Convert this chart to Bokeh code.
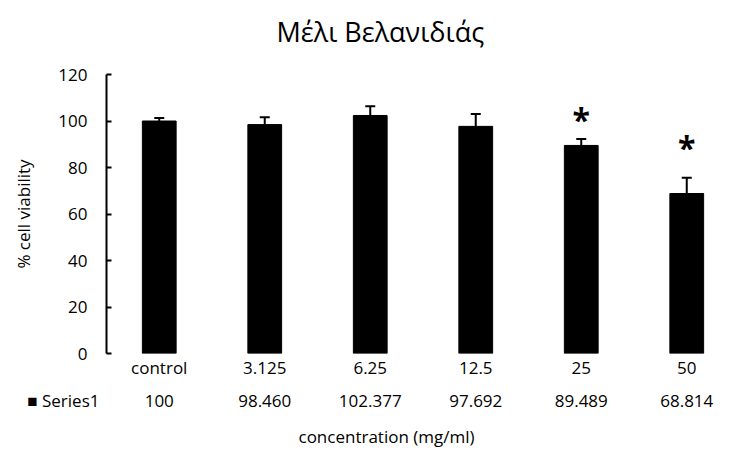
from bokeh.plotting import figure
from bokeh.models import (Range1d, FixedTicker, LinearAxis, Whisker, TeeHead,
                          ColumnDataSource, Title)
from bokeh.core.properties import value
from bokeh.embed import file_html
from bokeh.resources import INLINE

# ---- data ----
categories = ["control", "3.125", "6.25", "12.5", "25", "50"]
viability = [100, 98.460, 102.377, 97.692, 89.489, 68.814]
table_labels = ["100", "98.460", "102.377", "97.692", "89.489", "68.814"]
errors = [1.3, 3.2, 4.0, 5.3, 2.8, 6.8]
significant = [False, False, False, False, True, True]
star_y = [None, None, None, None, 100.7, 88.8]
y_ticks = [0, 20, 40, 60, 80, 100, 120]
series_name = "Series1"
title_text = "Μέλι Βελανιδιάς"
x_title = "concentration (mg/ml)"
y_title = "% cell viability"

FONT = "Open Sans"
FS = "17px"
NBSP = "\u00a0"
xs = list(range(len(categories)))

p = figure(output_backend="svg", toolbar_location=None,
           width=737, height=457,
           min_border_left=106, min_border_right=0,
           min_border_top=74, min_border_bottom=104,
           x_range=Range1d(-0.5, 5.481), y_range=Range1d(0, 120),
           x_axis_location=None)
p.outline_line_color = None
p.grid.grid_line_color = None
p.background_fill_color = "white"
p.border_fill_color = "white"

# spacer next to the frame, then the chart title above it
p.add_layout(Title(text=" ", text_font_size="1px", standoff=9), "above")
p.add_layout(Title(text=title_text, align="left", offset=170, standoff=23,
                   vertical_align="middle",
                   text_font=FONT, text_font_size="27px",
                   text_font_style="normal", text_color="black"), "above")

src = ColumnDataSource(dict(x=xs, top=viability,
                            upper=[v + e for v, e in zip(viability, errors)]))
p.vbar(x="x", top="top", width=0.32, source=src, fill_color="black",
       line_color="black")

w = Whisker(base="x", lower="top", upper="upper", source=src,
            line_color="black", line_width=2,
            upper_head=TeeHead(size=10, line_color="black", line_width=2),
            lower_head=None)
p.add_layout(w)

sx = [x for x, s in zip(xs, significant) if s]
sy = [y for y, s in zip(star_y, significant) if s]
p.text(x=sx, y=sy, text=["*"] * len(sx), text_align="center",
       text_baseline="middle", text_font=value(FONT),
       text_font_size="32px", text_font_style="bold", text_color="black")

# y axis
ya = p.yaxis[0]
ya.ticker = FixedTicker(ticks=y_ticks)
ya.axis_line_color = "black"
ya.axis_line_width = 2
ya.major_tick_line_color = "black"
ya.major_tick_line_width = 2
ya.major_tick_in = 5
ya.major_tick_out = 0
ya.minor_tick_line_color = None
ya.major_label_standoff = 19
ya.major_label_text_font = FONT
ya.major_label_text_font_size = FS
ya.major_label_text_color = "black"
ya.axis_label = y_title
ya.axis_label_text_font = FONT
ya.axis_label_text_font_size = FS
ya.axis_label_text_font_style = "normal"
ya.axis_label_text_color = "black"
ya.axis_label_standoff = 20

# x axis: categories row
xa1 = LinearAxis(ticker=FixedTicker(ticks=xs),
                 major_label_overrides={i: c for i, c in enumerate(categories)})
# x axis: data table row, with the series key at the left edge of the table
key_pos = -0.49
table_overrides = {i: t for i, t in enumerate(table_labels)}
table_overrides[key_pos] = "■ " + series_name + NBSP * 20
xa2 = LinearAxis(ticker=FixedTicker(ticks=[key_pos] + xs),
                 major_label_overrides=table_overrides)
for a, so in ((xa1, 2), (xa2, 7)):
    a.axis_line_color = None
    a.major_tick_line_color = None
    a.minor_tick_line_color = None
    a.major_tick_out = 0
    a.major_tick_in = 0
    a.major_label_standoff = so
    a.major_label_text_font = FONT
    a.major_label_text_font_size = FS
    a.major_label_text_color = "black"
p.add_layout(xa1, "below")
p.add_layout(xa2, "below")

p.add_layout(Title(text=x_title, align="left", offset=192, standoff=16,
                   text_font=FONT, text_font_size=FS,
                   text_font_style="normal", text_color="black"), "below")

open("out.html", "w").write(file_html(p, INLINE))
